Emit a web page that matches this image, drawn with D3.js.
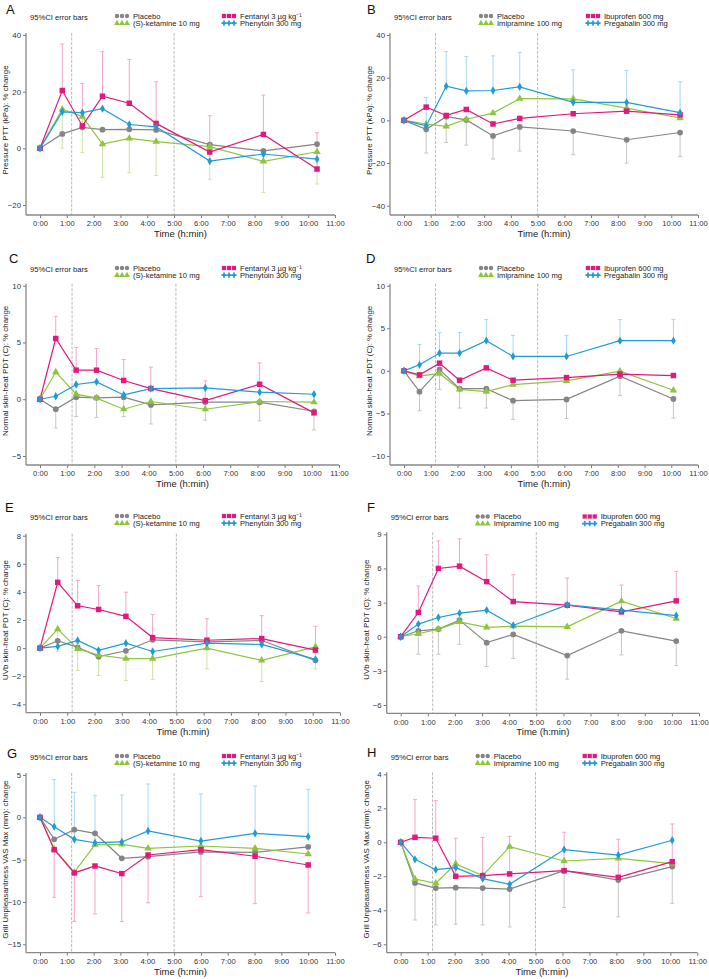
<!DOCTYPE html>
<html><head><meta charset="utf-8">
<script src="https://cdn.jsdelivr.net/npm/d3@7"></script>
<style>
body{margin:0;background:#fff}
svg{display:block}
text{font-family:"Liberation Sans",Arial,Helvetica,sans-serif}
</style>
</head><body>
<svg id="chart" width="709" height="979"></svg>
<script>
// ---------------- DATA ----------------
const hourTicks = [0,1,2,3,4,5,6,7,8,9,10,11];
const eventTimes = [1.18, 5.0];
const seriesLeft = ["Placebo", "(S)-ketamine 10 mg", "Fentanyl 3 \u00b5g kg\u207b\u00b9", "Phenytoin 300 mg"];
const seriesRight = ["Placebo", "Imipramine 100 mg", "Ibuprofen 600 mg", "Pregabalin 300 mg"];
const errorNote = "95%CI error bars";
const yTitlePressure = "Pressure PTT (kPa): % change";
const yTitleNormal = "Normal skin-heat PDT (C): % change";
const yTitleUVb = "UVb skin-heat PDT (C): % change";
const yTitleGrill = "Grill Unpleasantness VAS Max (mm): change";

// Panel A
const ticksA = [40, 20, 0, -20];
const timeA = [0, 0.83, 1.58, 2.33, 3.33, 4.33, 6.33, 8.33, 10.33];
const placeboA = [0, 5.1, 7.4, 6.6, 6.7, 6.5, 1.3, -0.9, 1.5];
const ketamineA = [0, 13.8, 11.2, 1.5, 3.5, 2.4, 0.6, -4.6, -1.2];
const fentanylA = [0, 20.4, 7.9, 18.4, 15.9, 8.8, -1.3, 4.9, -7.3];
const phenytoinA = [0, 12.9, 12.6, 14.0, 8.4, 7.6, -4.5, -2.0, -3.8];
const upperA = [null, 36.8, 22.9, 34.1, 31.4, 23.5, 11.5, 18.8, 5.5];      // fentanyl upper CI
const lowerA = [null, 0.1, -1.5, -10.2, -8.6, -9.6, -10.9, -15.6, -12.6];  // ketamine lower CI

// Panel B
const ticksB = [40, 20, 0, -20, -40];
const timeB = [0, 0.83, 1.58, 2.33, 3.33, 4.33, 6.33, 8.33, 10.33];
const placeboB = [0, -4.2, 1.7, 0.2, -7.3, -3.1, -5.0, -9.1, -5.7];
const imipramineB = [0, -1.7, -2.8, 0.5, 3.4, 10.2, 10.1, 5.7, 1.1];
const ibuprofenB = [0, 6.2, 2.3, 5.1, -1.7, 0.9, 3.1, 4.3, 2.6];
const pregabalinB = [0, -2.6, 16.0, 13.8, 14.0, 15.7, 8.4, 8.4, 3.6];
const upperB = [null, 10.7, 32.2, 29.9, 30.2, 31.9, 23.7, 23.4, 18.1];      // pregabalin upper CI
const lowerB = [null, -15.3, -10.4, -11.6, -18.1, -14.4, -16.1, -20.0, -16.9]; // placebo lower CI

// Panel C
const ticksC = [10, 5, 0, -5];
const timeC = [0, 0.58, 1.33, 2.08, 3.08, 4.08, 6.08, 8.08, 10.08];
const placeboC = [0, -0.88, 0.18, 0.12, 0.18, -0.5, -0.25, -0.26, -1.06];
const ketamineC = [0, 2.4, 0.45, 0.1, -0.88, -0.2, -0.88, -0.2, -0.26];
const fentanylC = [0, 5.35, 2.56, 2.56, 1.65, 0.94, -0.12, 1.32, -1.2];
const phenytoinC = [0, 0.26, 1.3, 1.53, 0.38, 0.94, 1.0, 0.62, 0.44];
const upperC = [null, 7.3, 4.56, 4.47, 3.5, 2.82, 1.62, 3.2, null];          // fentanyl upper CI
const lowerC = [null, -2.53, -1.53, -1.62, -1.53, -2.18, -1.85, -1.91, -2.7]; // placebo lower CI

// Panel D
const ticksD = [10, 5, 0, -5, -10];
const timeD = [0, 0.58, 1.33, 2.08, 3.08, 4.08, 6.08, 8.08, 10.08];
const placeboD = [0, -2.44, 0.16, -2.09, -2.09, -3.5, -3.35, -0.63, -3.3];
const imipramineD = [0, -0.63, -0.31, -2.17, -2.44, -1.61, -1.18, -0.04, -2.28];
const ibuprofenD = [0, -0.47, 0.9, -1.1, 0.35, -1.1, -0.79, -0.39, -0.55];
const pregabalinD = [0, 0.71, 2.09, 2.09, 3.54, 1.69, 1.69, 3.54, 3.54];
const upperD = [null, 3.11, 4.49, 4.49, 6.02, 4.17, 4.17, 6.02, 6.02];        // pregabalin upper CI
const lowerD = [null, -4.69, -2.17, -4.37, -4.37, -5.7, -5.6, -2.91, -5.55];  // placebo lower CI

// Panel E
const ticksE = [8, 6, 4, 2, 0, -2, -4];
const timeE = [0, 0.65, 1.38, 2.15, 3.15, 4.13, 6.12, 8.13, 10.1];
const placeboE = [0, 0.52, 0.05, -0.61, -0.19, 0.59, 0.45, 0.54, -0.87];
const ketamineE = [0, 1.36, -0.05, -0.49, -0.75, -0.75, 0.0, -0.87, 0.09];
const fentanylE = [0, 4.68, 3.01, 2.75, 2.26, 0.75, 0.56, 0.68, -0.14];
const phenytoinE = [0, 0.12, 0.54, -0.16, 0.35, -0.24, 0.35, 0.26, -0.8];
const upperE = [null, 6.45, 4.82, 4.45, 3.98, 2.4, 2.09, 2.31, 1.55];         // fentanyl upper CI
const lowerE = [null, -0.24, -1.6, -1.95, -2.31, -2.24, -1.48, -2.38, -1.48]; // ketamine lower CI

// Panel F
const ticksF = [9, 6, 3, 0, -3, -6];
const timeF = [0, 0.65, 1.39, 2.17, 3.17, 4.15, 6.14, 8.14, 10.16];
const placeboF = [0, 0.52, 0.67, 1.46, -0.52, 0.2, -1.66, 0.52, -0.38];
const imipramineF = [0, 0.26, 0.67, 1.31, 0.82, 0.93, 0.87, 3.12, 1.6];
const ibuprofenF = [0, 2.13, 6.0, 6.2, 4.84, 3.09, 2.77, 2.18, 3.15];
const pregabalinF = [0, 1.11, 1.69, 2.07, 2.33, 0.99, 2.8, 2.33, 1.86];
const upperF = [null, 4.46, 8.42, 8.6, 7.2, 5.45, 5.16, 4.54, 5.74];           // ibuprofen upper CI
const lowerF = [null, -1.54, -1.54, -0.67, -2.62, -1.92, -3.73, -1.6, -2.53];  // placebo lower CI

// Panel G
const ticksG = [5, 0, -5, -10, -15];
const timeG = [0, 0.53, 1.28, 2.05, 3.05, 4.03, 6.0, 8.02, 10.0];
const placeboG = [0, -2.6, -1.46, -1.89, -4.84, -4.65, -4.09, -4.13, -3.5];
const ketamineG = [0, -3.74, -6.5, -3.23, -3.19, -3.66, -3.39, -3.66, -4.33];
const fentanylG = [0, -3.82, -6.57, -5.75, -6.65, -4.45, -3.82, -4.6, -5.63];
const phenytoinG = [0, -1.1, -2.6, -3.0, -2.91, -1.61, -2.8, -1.89, -2.28];
const upperG = [null, 4.45, 2.95, 2.56, 2.64, 3.94, 2.76, 3.7, 3.31];              // phenytoin upper CI
const lowerG = [null, -9.45, -12.3, -11.4, -12.3, -10.1, -9.37, -10.2, -11.3];     // fentanyl lower CI

// Panel H
const ticksH = [4, 2, 0, -2, -4, -6];
const timeH = [0, 0.53, 1.3, 2.04, 3.04, 4.04, 6.06, 8.07, 10.07];
const placeboH = [0, -2.39, -2.69, -2.67, -2.69, -2.75, -1.67, -2.22, -1.43];
const imipramineH = [0, -2.16, -2.41, -1.27, -1.96, -0.25, -1.1, -0.94, -1.25];
const ibuprofenH = [0, 0.29, 0.24, -2.0, -1.96, -1.86, -1.67, -2.06, -1.14];
const pregabalinH = [0, -1.0, -1.61, -1.49, -2.14, -2.47, -0.43, -0.75, 0.12];
const upperH = [null, 2.51, 2.45, 0.24, 0.29, 0.35, 0.59, 0.18, 1.08];            // ibuprofen upper CI
const lowerH = [null, -4.57, -4.86, -4.82, -4.86, -4.98, -3.84, -4.39, -3.59];    // placebo lower CI

// ---------------- STYLE ----------------
const colors = ["#858585", "#8cc63f", "#e2197c", "#1f9bd7"];
const lightColors = ["#c6c6c6", "#cfe4a6", "#f2a6ca", "#a6d7f0"];
const symbols = [d3.symbolCircle, d3.symbolTriangle, d3.symbolSquare, d3.symbolDiamond];
const symSizes = [26, 24, 30, 20];

// ---------------- PANELS (layout + references to data) ----------------
const panels = [
  {id:"A", names:seriesLeft, yTitle:yTitlePressure, ticks:ticksA, t:timeA, s:[placeboA, ketamineA, fentanylA, phenytoinA], up:upperA, upS:2, lo:lowerA, loS:1,
   x0:40, x11:335, topY:35, botY:205, axisY:215, letterX:6, letterY:14, legY:16},
  {id:"B", names:seriesRight, yTitle:yTitlePressure, ticks:ticksB, t:timeB, s:[placeboB, imipramineB, ibuprofenB, pregabalinB], up:upperB, upS:3, lo:lowerB, loS:0,
   x0:404, x11:698, topY:35, botY:205.7, axisY:215, letterX:367, letterY:14, legY:16},
  {id:"C", names:seriesLeft, yTitle:yTitleNormal, ticks:ticksC, t:timeC, s:[placeboC, ketamineC, fentanylC, phenytoinC], up:upperC, upS:2, lo:lowerC, loS:0,
   x0:40, x11:339, topY:285.7, botY:456, axisY:465, letterX:9, letterY:263, legY:268},
  {id:"D", names:seriesRight, yTitle:yTitleNormal, ticks:ticksD, t:timeD, s:[placeboD, imipramineD, ibuprofenD, pregabalinD], up:upperD, upS:3, lo:lowerD, loS:0,
   x0:404, x11:698, topY:285.7, botY:456, axisY:465, letterX:366, letterY:263, legY:268},
  {id:"E", names:seriesLeft, yTitle:yTitleUVb, ticks:ticksE, t:timeE, s:[placeboE, ketamineE, fentanylE, phenytoinE], up:upperE, upS:2, lo:lowerE, loS:1,
   x0:40, x11:340, topY:535.7, botY:704.3, axisY:712.7, letterX:5, letterY:512, legY:516},
  {id:"F", names:seriesRight, yTitle:yTitleUVb, ticks:ticksF, t:timeF, s:[placeboF, imipramineF, ibuprofenF, pregabalinF], up:upperF, upS:2, lo:lowerF, loS:0,
   x0:400.7, x11:699, topY:534.3, botY:705, axisY:713.3, letterX:367, letterY:512, legY:516.5},
  {id:"G", names:seriesLeft, yTitle:yTitleGrill, ticks:ticksG, t:timeG, s:[placeboG, ketamineG, fentanylG, phenytoinG], up:upperG, upS:3, lo:lowerG, loS:2,
   x0:40, x11:335, topY:775, botY:944.3, axisY:952.7, letterX:7, letterY:758, legY:756},
  {id:"H", names:seriesRight, yTitle:yTitleGrill, ticks:ticksH, t:timeH, s:[placeboH, imipramineH, ibuprofenH, pregabalinH], up:upperH, upS:2, lo:lowerH, loS:0,
   x0:400.7, x11:697.3, topY:774.3, botY:944.3, axisY:952.7, letterX:367, letterY:757, legY:756}
];

const svg = d3.select("#chart");

function drawPanel(p) {
  const g = svg.append("g").attr("class", "panel-" + p.id);
  const x = d3.scaleLinear().domain([0, 11]).range([p.x0, p.x11]);
  const y = d3.scaleLinear().domain([p.ticks[p.ticks.length - 1], p.ticks[0]]).range([p.botY, p.topY]);
  const axisX = p.x0 - 14;
  const topLine = p.topY - 2;

  // Event dashed lines
  g.selectAll("line.event").data(eventTimes).enter().append("line")
    .attr("class", "event")
    .attr("x1", d => x(d)).attr("x2", d => x(d))
    .attr("y1", topLine).attr("y2", p.axisY)
    .attr("stroke", "#a8a8a8").attr("stroke-width", 0.8).attr("stroke-dasharray", "3,1.5");

  // Y axis
  const ya = g.append("g").attr("transform", `translate(${axisX},0)`)
    .call(d3.axisLeft(y).tickValues(p.ticks).tickSize(3).tickPadding(2));
  ya.select(".domain").remove();
  ya.selectAll(".tick line").attr("stroke", "#777");
  ya.selectAll(".tick text").attr("font-size", "7.8px").attr("fill", "#333");
  g.append("line").attr("x1", axisX).attr("x2", axisX).attr("y1", topLine).attr("y2", p.axisY)
    .attr("stroke", "#888").attr("stroke-width", 1.3);

  // X axis
  const xa = g.append("g").attr("transform", `translate(0,${p.axisY})`)
    .call(d3.axisBottom(x).tickValues(hourTicks).tickFormat(d => d + ":00").tickSize(3).tickPadding(3));
  xa.select(".domain").remove();
  xa.selectAll(".tick line").attr("stroke", "#777");
  xa.selectAll(".tick text").attr("font-size", "7.6px").attr("fill", "#333");
  g.append("line").attr("x1", axisX).attr("x2", x(11)).attr("y1", p.axisY).attr("y2", p.axisY)
    .attr("stroke", "#888").attr("stroke-width", 1.3);

  // Axis titles
  g.append("text").attr("x", (axisX + x(11)) / 2).attr("y", p.axisY + 22)
    .attr("text-anchor", "middle").attr("font-size", "9.5px").attr("fill", "#222").text("Time (h:min)");
  const yc = (p.topY + p.botY) / 2;
  g.append("text").attr("transform", `translate(${axisX - 18},${yc}) rotate(-90)`)
    .attr("text-anchor", "middle").attr("font-size", "7.9px").attr("fill", "#222").text(p.yTitle);

  // Panel letter
  g.append("text").attr("x", p.letterX).attr("y", p.letterY).attr("font-size", "13px").attr("fill", "#111").text(p.id);

  // Error bars
  const idx = d3.range(p.t.length);
  const drawBars = (vals, si) => {
    const gb = g.append("g").attr("stroke", lightColors[si]).attr("stroke-width", 1);
    idx.filter(i => vals[i] !== null).forEach(i => {
      const xx = x(p.t[i]);
      gb.append("line").attr("x1", xx).attr("x2", xx).attr("y1", y(p.s[si][i])).attr("y2", y(vals[i]));
      gb.append("line").attr("x1", xx - 2).attr("x2", xx + 2).attr("y1", y(vals[i])).attr("y2", y(vals[i]));
    });
  };
  drawBars(p.up, p.upS);
  drawBars(p.lo, p.loS);

  // Lines & markers
  const line = d3.line().x((d, i) => x(p.t[i])).y(d => y(d));
  p.s.forEach((vals, si) => {
    g.append("path").datum(vals).attr("d", line).attr("fill", "none")
      .attr("stroke", colors[si]).attr("stroke-width", 1.2);
  });
  p.s.forEach((vals, si) => {
    g.selectAll(null).data(vals).enter().append("path")
      .attr("d", d3.symbol().type(symbols[si]).size(symSizes[si]))
      .attr("transform", (d, i) => `translate(${x(p.t[i])},${y(d)})`)
      .attr("fill", colors[si]);
  });

  // Legend
  g.append("text").attr("x", p.x0 - 10).attr("y", p.legY + 3.5).attr("font-size", "7.6px").attr("fill", "#222").text(errorNote);
  const legPos = [[p.x0 + 77, p.legY], [p.x0 + 77, p.legY + 7.2], [p.x0 + 184, p.legY], [p.x0 + 184, p.legY + 7.2]];
  p.names.forEach((name, si) => {
    const [lx, ly] = legPos[si];
    [0, 5, 10].forEach(dx => {
      g.append("path").attr("d", d3.symbol().type(si === 3 ? d3.symbolCross : symbols[si]).size(si === 2 ? 18 : 15))
        .attr("transform", `translate(${lx + dx},${ly})`).attr("fill", colors[si]);
    });
    g.append("text").attr("x", lx + 16).attr("y", ly + 2.7).attr("font-size", "7.6px").attr("fill", "#222").text(name);
  });
}

panels.forEach(drawPanel);
</script>
</body></html>
